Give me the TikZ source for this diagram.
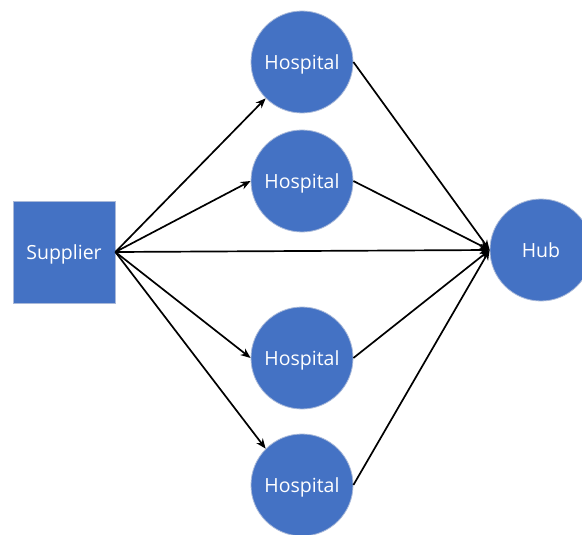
\documentclass[tikz,border=0pt]{standalone}
\usepackage{fontspec}
\setmainfont{Open Sans}
\usetikzlibrary{arrows.meta}
\definecolor{nodeblue}{HTML}{4472C4}
\definecolor{rimblue}{HTML}{A9B9D9}
\tikzset{
  base/.style={fill=nodeblue, draw=rimblue, line width=0.8pt, text=white,
    font=\fontsize{19.5}{21}\selectfont, inner sep=0pt, text depth=0pt},
  site/.style={base, circle, minimum size=102pt},
  source/.style={base, rectangle, minimum width=102pt, minimum height=102pt},
  flow/.style={line width=1.7pt, -{Stealth[length=10pt, width=8pt]}}
}
\begin{document}
\begin{tikzpicture}[x=1pt, y=-1pt]
  \useasboundingbox (0,0) rectangle (582,535);
  \fill[white] (0,0) rectangle (582,535);

  % supplier, hospitals and hub
  \node[source] (sup) at (64,252) {Supplier};
  \node[site] (h1) at (302,62)  {Hospital};
  \node[site] (h2) at (302,181) {Hospital};
  \node[site] (h3) at (302,358) {Hospital};
  \node[site] (h4) at (302,485) {Hospital};
  \node[site] (hub) at (541,250) {Hub};

  % supplier deliveries
  \draw[flow] (sup.east) -- (h1.south west);
  \draw[flow] (sup.east) -- (h2.west);
  \draw[flow] (sup.east) -- (h3.west);
  \draw[flow] (sup.east) -- (h4.north west);
  \draw[flow] (sup.east) -- (hub.west);

  % hospitals to hub
  \draw[flow] (h1.east) -- (hub.west);
  \draw[flow] (h2.east) -- (hub.west);
  \draw[flow] (h3.east) -- (hub.west);
  \draw[flow] (h4.east) -- (hub.west);
\end{tikzpicture}
\end{document}
